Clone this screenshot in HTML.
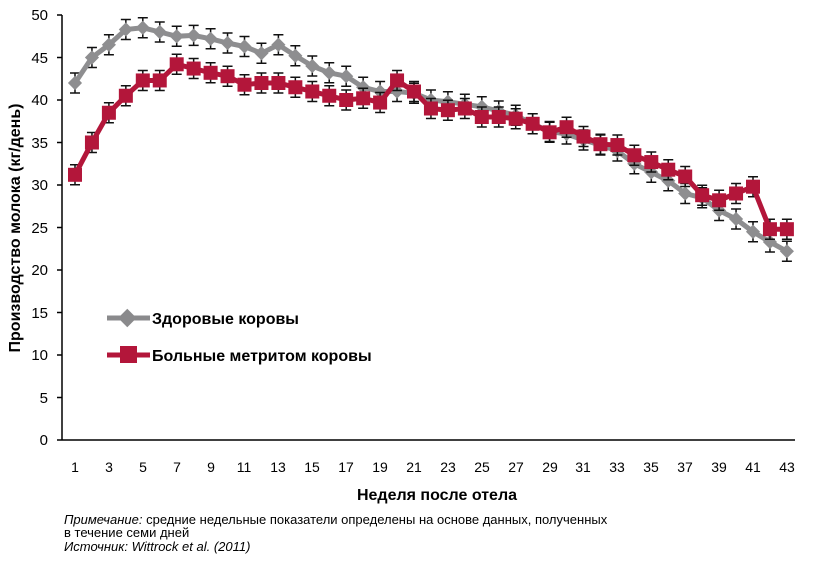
<!DOCTYPE html>
<html><head><meta charset="utf-8"><style>
body{margin:0;background:#fff;width:814px;height:566px;overflow:hidden;font-family:"Liberation Sans",sans-serif}
svg text{font-family:"Liberation Sans",sans-serif}
</style></head><body>
<svg id="s" width="814" height="566" xmlns="http://www.w3.org/2000/svg">
<line x1="62" y1="15" x2="62" y2="440" stroke="#000" stroke-width="1.5"/>
<line x1="62" y1="440" x2="795" y2="440" stroke="#000" stroke-width="1.5"/>
<path d="M57 15H62M57 57.5H62M57 100H62M57 142.5H62M57 185H62M57 227.5H62M57 270H62M57 312.5H62M57 355H62M57 397.5H62M57 440H62" stroke="#000" stroke-width="1.5"/>
<g font-size="15" text-anchor="end" fill="#000">
<text x="48" y="20">50</text><text x="48" y="63">45</text><text x="48" y="105">40</text><text x="48" y="148">35</text><text x="48" y="190">30</text><text x="48" y="233">25</text><text x="48" y="275">20</text><text x="48" y="318">15</text><text x="48" y="360">10</text><text x="48" y="403">5</text><text x="48" y="445">0</text>
</g>
<g font-size="14" text-anchor="middle">
<text x="75" y="472">1</text><text x="109" y="472">3</text><text x="143" y="472">5</text><text x="177" y="472">7</text><text x="211" y="472">9</text><text x="244" y="472">11</text><text x="278" y="472">13</text><text x="312" y="472">15</text><text x="346" y="472">17</text><text x="380" y="472">19</text><text x="414" y="472">21</text><text x="448" y="472">23</text><text x="482" y="472">25</text><text x="516" y="472">27</text><text x="550" y="472">29</text><text x="583" y="472">31</text><text x="617" y="472">33</text><text x="651" y="472">35</text><text x="685" y="472">37</text><text x="719" y="472">39</text><text x="753" y="472">41</text><text x="787" y="472">43</text>
</g>
<text x="437" y="500" font-size="16" font-weight="bold" text-anchor="middle">Неделя после отела</text>
<text transform="translate(20,228) rotate(-90)" font-size="16" font-weight="bold" text-anchor="middle">Производство молока (кг/день)</text>
<g id="d"></g>
<line x1="107" y1="318" x2="150" y2="318" stroke="#8a8a8c" stroke-width="5"/>
<rect x="121" y="312" width="13" height="13" fill="#8a8a8c" transform="rotate(45 128 318)"/>
<text x="152" y="324" font-size="16" font-weight="bold">Здоровые коровы</text>
<line x1="107" y1="355" x2="150" y2="355" stroke="#b3163a" stroke-width="5"/>
<rect x="120" y="346" width="17" height="17" fill="#b3163a"/>
<text x="152" y="361" font-size="16" font-weight="bold">Больные метритом коровы</text>
<g font-size="13">
<text x="64" y="524"><tspan font-style="italic">Примечание:</tspan> средние недельные показатели определены на основе данных, полученных</text>
<text x="64" y="537">в течение семи дней</text>
<text x="64" y="551" font-style="italic">Источник: Wittrock et al. (2011)</text>
</g>
</svg>
<script>
var g=[42,45,46.5,48.3,48.5,48,47.5,47.6,47.2,46.7,46.3,45.5,46.5,45.2,44,43.2,42.8,41.5,41,41,40.8,40,39.8,39.5,39.2,38.7,38.2,37.2,36.3,36,35.3,34.7,34,32.5,31.5,30.5,29,28.5,27,26,24.5,23.3,22.2];
var r=[31.2,35,38.5,40.5,42.3,42.3,44.2,43.7,43.2,42.8,41.8,42,42,41.5,41,40.5,40,40.2,39.7,42.3,41,39,38.8,39,38,38,37.8,37.2,36.2,36.8,35.7,34.8,34.7,33.5,32.7,31.8,31,28.8,28.2,29,29.8,24.8,24.8];
var X=function(i){return 75+i*16.95},Y=function(v){return 440-v*8.5};
function series(a,c,sq){
 var p=a.map(function(v,i){return X(i).toFixed(1)+','+Y(v).toFixed(1)}).join(' ');
 var s='';
 a.forEach(function(v,i){var x=X(i),y=Y(v);
  s+='<path d="M'+x+' '+(y-10)+'V'+(y+10)+'M'+(x-5)+' '+(y-10)+'H'+(x+5)+'M'+(x-5)+' '+(y+10)+'H'+(x+5)+'" stroke="#111" stroke-width="1.5"/>';});
 s+='<polyline points="'+p+'" fill="none" stroke="'+c+'" stroke-width="5"/>';
 a.forEach(function(v,i){var x=X(i),y=Y(v);
  s+=sq?'<rect x="'+(x-7)+'" y="'+(y-7)+'" width="14" height="14" fill="'+c+'"/>':'<rect x="'+(x-5)+'" y="'+(y-5)+'" width="10" height="10" fill="'+c+'" transform="rotate(45 '+x+' '+y+')"/>';});
 return s;}
document.getElementById('d').innerHTML=series(g,'#8e8e90',false)+series(r,'#b3163a',true);
</script>
</body></html>
